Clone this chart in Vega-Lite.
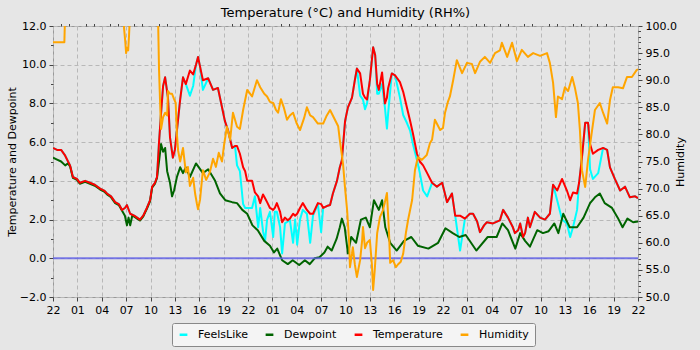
{
"$schema":"https://vega.github.io/schema/vega-lite/v6.json",
"width":585,"height":271,
"autosize":{"type":"none"},
"padding":{"left":53,"top":26,"right":62,"bottom":53},
"background":"#e6e6e6",
"title":{"text":"Temperature (°C) and Humidity (RH%)","font":"DejaVu Sans","fontSize":13,"fontWeight":"normal","color":"#000000","frame":"group","offset":0},
"config":{
 "view":{"fill":"#e5e5e5","stroke":"#999999","strokeWidth":1},
 "axis":{"labelFont":"DejaVu Sans","titleFont":"DejaVu Sans","labelFontSize":11,"titleFontSize":11,"titleFontWeight":"normal","labelColor":"#000000","titleColor":"#000000","domainColor":"#999999","tickColor":"#444444","gridColor":"#b8b8b8","gridDash":[4,3],"gridWidth":1,"labelFlush":false},
 "legend":{"labelFont":"DejaVu Sans","labelFontSize":11,"labelColor":"#000000"}
},
"datasets":{
"temp":[{"h":0,"v":5.7},{"h":0.5,"v":5.6},{"h":1,"v":5.6},{"h":1.5,"v":5.3},{"h":1.85,"v":5.0},{"h":2.1,"v":4.8},{"h":2.45,"v":4.2},{"h":2.95,"v":4.1},{"h":3.3,"v":3.9},{"h":3.95,"v":4.0},{"h":4.55,"v":3.9},{"h":5.15,"v":3.8},{"h":5.8,"v":3.6},{"h":6.3,"v":3.5},{"h":6.65,"v":3.35},{"h":7.15,"v":3.2},{"h":7.65,"v":2.9},{"h":8.1,"v":2.8},{"h":8.5,"v":2.5},{"h":8.85,"v":2.6},{"h":9.1,"v":2.75},{"h":9.5,"v":2.3},{"h":10,"v":2.2},{"h":10.35,"v":2.1},{"h":10.7,"v":2.0},{"h":11.1,"v":2.2},{"h":11.55,"v":2.6},{"h":11.95,"v":3.0},{"h":12.2,"v":3.7},{"h":12.55,"v":3.9},{"h":12.8,"v":4.2},{"h":13.05,"v":6.0},{"h":13.3,"v":7.5},{"h":13.55,"v":8.9},{"h":13.8,"v":9.35},{"h":14.05,"v":8.6},{"h":14.15,"v":8.3},{"h":14.4,"v":6.25},{"h":14.65,"v":5.5},{"h":14.75,"v":5.2},{"h":15,"v":5.6},{"h":15.25,"v":6.6},{"h":15.65,"v":8.2},{"h":16,"v":9.35},{"h":16.35,"v":9.0},{"h":16.85,"v":9.7},{"h":17.25,"v":9.5},{"h":17.6,"v":10.0},{"h":17.85,"v":10.4},{"h":18.1,"v":9.9},{"h":18.45,"v":9.2},{"h":19.1,"v":9.3},{"h":19.7,"v":8.7},{"h":20.3,"v":8.8},{"h":20.8,"v":7.8},{"h":21.15,"v":7.1},{"h":21.55,"v":6.6},{"h":22.05,"v":5.7},{"h":22.4,"v":5.8},{"h":22.65,"v":5.8},{"h":23,"v":5.4},{"h":23.4,"v":4.7},{"h":23.65,"v":4.5},{"h":23.9,"v":4.0},{"h":24.5,"v":4.0},{"h":24.85,"v":3.4},{"h":25.25,"v":3.2},{"h":25.5,"v":2.85},{"h":25.85,"v":3.3},{"h":26.1,"v":3.1},{"h":26.35,"v":2.9},{"h":26.7,"v":2.6},{"h":27.1,"v":2.5},{"h":27.3,"v":2.6},{"h":27.55,"v":2.85},{"h":27.95,"v":2.4},{"h":28.2,"v":1.86},{"h":28.55,"v":2.1},{"h":28.9,"v":1.96},{"h":29.15,"v":2.05},{"h":29.55,"v":2.3},{"h":29.8,"v":2.2},{"h":30.05,"v":2.3},{"h":30.4,"v":2.6},{"h":30.75,"v":2.85},{"h":31.25,"v":2.5},{"h":31.65,"v":2.3},{"h":32,"v":2.3},{"h":32.6,"v":2.85},{"h":33,"v":2.8},{"h":33.25,"v":2.6},{"h":33.7,"v":2.7},{"h":34.1,"v":2.75},{"h":34.45,"v":3.35},{"h":34.95,"v":4.0},{"h":35.3,"v":4.7},{"h":35.55,"v":5.06},{"h":35.95,"v":7.1},{"h":36.3,"v":7.8},{"h":36.8,"v":8.3},{"h":37.15,"v":9.2},{"h":37.4,"v":9.8},{"h":37.8,"v":9.55},{"h":38.15,"v":8.5},{"h":38.4,"v":8.3},{"h":38.65,"v":8.2},{"h":39,"v":9.2},{"h":39.4,"v":10.9},{"h":39.65,"v":10.5},{"h":39.9,"v":9.0},{"h":40.1,"v":8.7},{"h":40.5,"v":9.6},{"h":40.85,"v":8.0},{"h":41.1,"v":8.3},{"h":41.25,"v":8.8},{"h":41.7,"v":9.55},{"h":42.1,"v":9.45},{"h":42.7,"v":9.1},{"h":43.1,"v":8.6},{"h":43.55,"v":7.8},{"h":43.95,"v":7.1},{"h":44.3,"v":6.45},{"h":44.8,"v":5.4},{"h":45.15,"v":5.0},{"h":45.55,"v":4.8},{"h":46.05,"v":4.4},{"h":46.65,"v":3.9},{"h":47.25,"v":3.7},{"h":47.9,"v":3.9},{"h":48.5,"v":2.9},{"h":49.1,"v":3.35},{"h":49.5,"v":2.2},{"h":50.1,"v":2.2},{"h":50.7,"v":2.05},{"h":51.3,"v":2.3},{"h":51.7,"v":2.3},{"h":52.2,"v":1.9},{"h":52.55,"v":1.35},{"h":53.05,"v":1.7},{"h":53.4,"v":1.86},{"h":54.15,"v":1.8},{"h":55,"v":1.96},{"h":55.4,"v":2.5},{"h":56,"v":2.1},{"h":56.6,"v":1.6},{"h":56.85,"v":1.3},{"h":57.25,"v":1.45},{"h":57.5,"v":1.8},{"h":57.85,"v":1.1},{"h":58.1,"v":1.3},{"h":58.45,"v":2.1},{"h":58.7,"v":1.6},{"h":59.3,"v":2.4},{"h":59.95,"v":2.1},{"h":60.55,"v":2.0},{"h":61.15,"v":2.3},{"h":61.55,"v":3.8},{"h":62.05,"v":3.5},{"h":62.65,"v":4.1},{"h":63.25,"v":3.5},{"h":63.65,"v":3.0},{"h":64,"v":3.4},{"h":64.5,"v":3.35},{"h":64.75,"v":3.9},{"h":65.1,"v":5.2},{"h":65.5,"v":7.0},{"h":65.85,"v":7.0},{"h":66.1,"v":5.9},{"h":66.45,"v":5.4},{"h":67.1,"v":5.6},{"h":67.7,"v":5.7},{"h":68.2,"v":5.6},{"h":68.55,"v":4.7},{"h":69.15,"v":4.1},{"h":69.8,"v":3.5},{"h":70.4,"v":3.7},{"h":71,"v":3.15},{"h":71.65,"v":3.2},{"h":72,"v":3.1}],
"feels":[{"h":0,"v":5.7},{"h":0.5,"v":5.6},{"h":1,"v":5.6},{"h":1.5,"v":5.3},{"h":1.85,"v":5.0},{"h":2.1,"v":4.8},{"h":2.45,"v":4.2},{"h":2.95,"v":4.1},{"h":3.3,"v":3.9},{"h":3.95,"v":4.0},{"h":4.55,"v":3.9},{"h":5.15,"v":3.8},{"h":5.8,"v":3.6},{"h":6.3,"v":3.5},{"h":6.65,"v":3.35},{"h":7.15,"v":3.2},{"h":7.65,"v":2.9},{"h":8.1,"v":2.8},{"h":8.5,"v":2.5},{"h":8.85,"v":2.6},{"h":9.1,"v":2.75},{"h":9.5,"v":2.3},{"h":10,"v":2.2},{"h":10.35,"v":2.1},{"h":10.7,"v":2.0},{"h":11.1,"v":2.2},{"h":11.55,"v":2.6},{"h":11.95,"v":3.0},{"h":12.2,"v":3.7},{"h":12.55,"v":3.9},{"h":12.8,"v":4.2},{"h":13.05,"v":6.0},{"h":13.3,"v":7.5},{"h":13.55,"v":8.9},{"h":13.8,"v":9.35},{"h":14.05,"v":8.6},{"h":14.15,"v":8.3},{"h":14.4,"v":6.25},{"h":14.65,"v":5.5},{"h":14.75,"v":5.2},{"h":15,"v":5.6},{"h":15.25,"v":6.6},{"h":15.65,"v":8.2},{"h":16,"v":9.35},{"h":16.35,"v":9.0},{"h":16.85,"v":8.4},{"h":17.25,"v":8.9},{"h":17.6,"v":10.0},{"h":17.85,"v":10.4},{"h":18.1,"v":9.9},{"h":18.45,"v":8.7},{"h":19.1,"v":9.3},{"h":19.7,"v":8.7},{"h":20.3,"v":8.8},{"h":20.8,"v":7.8},{"h":21.15,"v":7.1},{"h":21.55,"v":6.6},{"h":22.05,"v":5.7},{"h":22.4,"v":5.8},{"h":22.65,"v":4.8},{"h":23,"v":4.5},{"h":23.4,"v":2.8},{"h":23.65,"v":2.6},{"h":23.9,"v":2.6},{"h":24.5,"v":2.6},{"h":24.85,"v":3.2},{"h":25.25,"v":1.6},{"h":25.5,"v":2.6},{"h":25.85,"v":1.4},{"h":26.1,"v":0.9},{"h":26.35,"v":2.0},{"h":26.7,"v":2.4},{"h":27.1,"v":1.1},{"h":27.3,"v":2.4},{"h":27.55,"v":2.4},{"h":27.95,"v":1.6},{"h":28.2,"v":0.25},{"h":28.55,"v":1.8},{"h":28.9,"v":1.9},{"h":29.15,"v":2.0},{"h":29.55,"v":0.8},{"h":29.8,"v":2.0},{"h":30.05,"v":0.7},{"h":30.4,"v":2.0},{"h":30.75,"v":2.5},{"h":31.25,"v":2.3},{"h":31.65,"v":0.8},{"h":32,"v":2.2},{"h":32.6,"v":2.8},{"h":33,"v":1.35},{"h":33.25,"v":2.6},{"h":33.7,"v":2.7},{"h":34.1,"v":2.75},{"h":34.45,"v":3.35},{"h":34.95,"v":4.0},{"h":35.3,"v":4.7},{"h":35.55,"v":5.06},{"h":35.95,"v":7.1},{"h":36.3,"v":7.8},{"h":36.8,"v":8.3},{"h":37.15,"v":9.2},{"h":37.4,"v":9.8},{"h":37.8,"v":8.4},{"h":38.15,"v":8.2},{"h":38.4,"v":7.7},{"h":38.65,"v":8.0},{"h":39,"v":9.2},{"h":39.4,"v":10.9},{"h":39.65,"v":10.5},{"h":39.9,"v":8.5},{"h":40.1,"v":8.5},{"h":40.5,"v":9.0},{"h":40.85,"v":7.8},{"h":41.1,"v":6.7},{"h":41.25,"v":7.5},{"h":41.7,"v":9.55},{"h":42.1,"v":9.45},{"h":42.7,"v":8.3},{"h":43.1,"v":7.4},{"h":43.55,"v":7.0},{"h":43.95,"v":6.6},{"h":44.3,"v":5.9},{"h":44.8,"v":5.06},{"h":45.15,"v":4.4},{"h":45.55,"v":3.5},{"h":46.05,"v":3.2},{"h":46.65,"v":3.9},{"h":47.25,"v":3.7},{"h":47.9,"v":3.9},{"h":48.5,"v":2.9},{"h":49.1,"v":3.35},{"h":49.5,"v":2.2},{"h":50.1,"v":0.4},{"h":50.7,"v":2.05},{"h":51.3,"v":2.3},{"h":51.7,"v":2.3},{"h":52.2,"v":1.9},{"h":52.55,"v":1.35},{"h":53.05,"v":1.7},{"h":53.4,"v":1.86},{"h":54.15,"v":1.8},{"h":55,"v":1.96},{"h":55.4,"v":2.5},{"h":56,"v":2.1},{"h":56.6,"v":1.6},{"h":56.85,"v":1.3},{"h":57.25,"v":1.45},{"h":57.5,"v":1.8},{"h":57.85,"v":1.1},{"h":58.1,"v":1.3},{"h":58.45,"v":2.1},{"h":58.7,"v":1.6},{"h":59.3,"v":2.4},{"h":59.95,"v":2.1},{"h":60.55,"v":2.0},{"h":61.15,"v":2.3},{"h":61.55,"v":3.8},{"h":62.05,"v":3.0},{"h":62.65,"v":2.0},{"h":63.25,"v":1.8},{"h":63.65,"v":1.1},{"h":64,"v":1.6},{"h":64.5,"v":2.5},{"h":64.75,"v":3.9},{"h":65.1,"v":5.2},{"h":65.5,"v":7.0},{"h":65.85,"v":7.0},{"h":66.1,"v":4.6},{"h":66.45,"v":4.1},{"h":67.1,"v":4.4},{"h":67.7,"v":5.7},{"h":68.2,"v":5.6},{"h":68.55,"v":4.7},{"h":69.15,"v":4.1},{"h":69.8,"v":3.5},{"h":70.4,"v":3.7},{"h":71,"v":3.15},{"h":71.65,"v":3.2},{"h":72,"v":3.1}],
"dew":[{"h":0,"v":5.2},{"h":0.5,"v":5.1},{"h":1,"v":5.0},{"h":1.5,"v":4.8},{"h":1.85,"v":4.9},{"h":2.1,"v":4.75},{"h":2.45,"v":4.15},{"h":2.95,"v":4.05},{"h":3.3,"v":3.85},{"h":3.95,"v":3.95},{"h":4.55,"v":3.85},{"h":5.15,"v":3.75},{"h":5.8,"v":3.55},{"h":6.3,"v":3.45},{"h":6.65,"v":3.3},{"h":7.15,"v":3.15},{"h":7.65,"v":2.85},{"h":8.1,"v":2.75},{"h":8.5,"v":2.45},{"h":8.85,"v":2.2},{"h":9.1,"v":1.7},{"h":9.3,"v":2.1},{"h":9.5,"v":1.7},{"h":9.75,"v":2.2},{"h":10,"v":2.15},{"h":10.35,"v":2.05},{"h":10.7,"v":1.95},{"h":11.1,"v":2.15},{"h":11.55,"v":2.55},{"h":11.95,"v":2.95},{"h":12.2,"v":3.65},{"h":12.55,"v":3.85},{"h":12.8,"v":4.15},{"h":13.05,"v":5.0},{"h":13.3,"v":5.9},{"h":13.55,"v":5.5},{"h":13.8,"v":5.7},{"h":14.05,"v":4.5},{"h":14.4,"v":3.9},{"h":14.65,"v":3.2},{"h":14.9,"v":3.5},{"h":15.25,"v":4.2},{"h":15.65,"v":4.7},{"h":16,"v":4.4},{"h":16.35,"v":4.7},{"h":16.85,"v":4.2},{"h":17.6,"v":4.9},{"h":18.45,"v":4.4},{"h":19.1,"v":4.6},{"h":19.95,"v":4.0},{"h":20.55,"v":3.35},{"h":21.2,"v":3.0},{"h":22.05,"v":2.9},{"h":22.65,"v":2.85},{"h":23.3,"v":2.5},{"h":23.9,"v":2.3},{"h":24.55,"v":1.7},{"h":25.2,"v":1.45},{"h":26,"v":0.9},{"h":26.7,"v":0.65},{"h":27.2,"v":0.3},{"h":27.6,"v":0.5},{"h":28.2,"v":-0.1},{"h":28.9,"v":-0.3},{"h":29.5,"v":-0.1},{"h":30.3,"v":-0.35},{"h":31,"v":-0.1},{"h":31.6,"v":-0.3},{"h":32.2,"v":0},{"h":32.8,"v":0.05},{"h":33.4,"v":0.3},{"h":33.8,"v":0.6},{"h":34.3,"v":0.4},{"h":34.9,"v":1.0},{"h":35.3,"v":1.6},{"h":35.55,"v":2.05},{"h":35.9,"v":1.6},{"h":36.3,"v":0.25},{"h":36.7,"v":1.1},{"h":37.3,"v":0.8},{"h":37.9,"v":2.0},{"h":38.5,"v":2.1},{"h":39,"v":1.6},{"h":39.5,"v":3.0},{"h":40.1,"v":2.5},{"h":40.5,"v":3.0},{"h":40.9,"v":1.6},{"h":41.5,"v":0.8},{"h":42.3,"v":0.4},{"h":43.2,"v":0.9},{"h":44.1,"v":1.1},{"h":44.9,"v":0.65},{"h":46.2,"v":0.5},{"h":47.4,"v":0.8},{"h":48.3,"v":1.55},{"h":49.2,"v":1.3},{"h":50,"v":1.1},{"h":50.8,"v":1.2},{"h":52.1,"v":0.4},{"h":53.5,"v":1.1},{"h":54.6,"v":1.1},{"h":55.3,"v":1.8},{"h":56,"v":1.45},{"h":56.9,"v":0.5},{"h":57.5,"v":1.3},{"h":58.1,"v":0.9},{"h":58.7,"v":0.6},{"h":59.6,"v":1.45},{"h":60.3,"v":1.3},{"h":61,"v":1.4},{"h":61.7,"v":1.8},{"h":62.2,"v":1.3},{"h":62.8,"v":2.3},{"h":63.6,"v":1.6},{"h":64.5,"v":1.6},{"h":65.3,"v":2.1},{"h":66.1,"v":2.85},{"h":66.7,"v":3.15},{"h":67.3,"v":3.35},{"h":67.9,"v":2.85},{"h":68.8,"v":2.6},{"h":69.5,"v":2.1},{"h":70.1,"v":1.6},{"h":70.7,"v":2.05},{"h":71.4,"v":1.86},{"h":72,"v":1.9}],
"hum":[{"h":0,"v":97},{"h":1.4,"v":97},{"h":1.5,"v":103},{"h":8.7,"v":103},{"h":8.75,"v":99.5},{"h":8.9,"v":97},{"h":9,"v":95},{"h":9.1,"v":96},{"h":9.25,"v":95.5},{"h":9.35,"v":98},{"h":9.5,"v":103},{"h":12.8,"v":103},{"h":12.95,"v":100},{"h":13.05,"v":92},{"h":13.2,"v":85},{"h":13.3,"v":81},{"h":13.55,"v":83.2},{"h":13.8,"v":84},{"h":14.05,"v":83.5},{"h":14.15,"v":88},{"h":14.4,"v":87.5},{"h":14.65,"v":87.5},{"h":14.9,"v":86.5},{"h":15.1,"v":85.8},{"h":15.25,"v":80},{"h":15.4,"v":77},{"h":15.65,"v":75},{"h":16,"v":77.5},{"h":16.35,"v":73},{"h":16.6,"v":74},{"h":16.85,"v":70.5},{"h":17.25,"v":72},{"h":17.5,"v":69},{"h":17.7,"v":67.3},{"h":17.85,"v":66.2},{"h":18.1,"v":68},{"h":18.45,"v":73.4},{"h":18.85,"v":71.6},{"h":19.3,"v":73},{"h":19.7,"v":75.5},{"h":20.05,"v":74},{"h":20.4,"v":76.6},{"h":20.8,"v":75},{"h":21.05,"v":78},{"h":21.4,"v":81.4},{"h":21.8,"v":79},{"h":22.15,"v":84},{"h":22.65,"v":81.4},{"h":23,"v":81},{"h":23.4,"v":84.5},{"h":23.9,"v":88.2},{"h":24.5,"v":87},{"h":25.1,"v":90},{"h":25.5,"v":88.7},{"h":26,"v":87.5},{"h":26.35,"v":87},{"h":26.7,"v":86},{"h":27.1,"v":85.8},{"h":27.45,"v":84.5},{"h":27.7,"v":84},{"h":28.05,"v":86.5},{"h":28.4,"v":85},{"h":28.8,"v":82.7},{"h":29.15,"v":83.5},{"h":29.55,"v":84},{"h":30,"v":82},{"h":30.4,"v":80.8},{"h":30.9,"v":83},{"h":31.25,"v":85},{"h":31.65,"v":83.5},{"h":32,"v":83.2},{"h":32.6,"v":82},{"h":33.25,"v":82},{"h":33.7,"v":83.5},{"h":34.1,"v":84.5},{"h":34.7,"v":82.7},{"h":35.1,"v":81.5},{"h":35.3,"v":79},{"h":35.7,"v":74.5},{"h":35.95,"v":70},{"h":36.2,"v":66},{"h":36.45,"v":60},{"h":36.55,"v":55.5},{"h":36.8,"v":58},{"h":36.9,"v":59.2},{"h":37.15,"v":56},{"h":37.4,"v":53.7},{"h":37.8,"v":56.8},{"h":38.05,"v":60.5},{"h":38.15,"v":62.9},{"h":38.4,"v":59},{"h":38.65,"v":60},{"h":39,"v":60.5},{"h":39.25,"v":56},{"h":39.4,"v":51.3},{"h":39.6,"v":55},{"h":39.9,"v":61.8},{"h":40.25,"v":64.8},{"h":40.6,"v":66},{"h":40.85,"v":67.5},{"h":41.1,"v":69.2},{"h":41.35,"v":62},{"h":41.5,"v":56.3},{"h":41.85,"v":56.8},{"h":42.2,"v":55.5},{"h":42.45,"v":56},{"h":42.8,"v":56.5},{"h":43.1,"v":58},{"h":43.45,"v":62},{"h":43.7,"v":64.2},{"h":44.2,"v":67.9},{"h":44.55,"v":73.4},{"h":44.9,"v":75.8},{"h":45.4,"v":75.3},{"h":46,"v":76.2},{"h":46.4,"v":78.4},{"h":46.65,"v":79},{"h":47,"v":82.7},{"h":47.65,"v":80.8},{"h":48,"v":81.2},{"h":48.25,"v":84},{"h":48.6,"v":86},{"h":48.85,"v":87},{"h":49.25,"v":90},{"h":49.7,"v":93.7},{"h":50.35,"v":91.3},{"h":50.95,"v":93.2},{"h":51.55,"v":93},{"h":51.95,"v":91.3},{"h":52.55,"v":93.4},{"h":53.15,"v":94.3},{"h":53.8,"v":93.2},{"h":54.4,"v":95},{"h":55,"v":95.5},{"h":55.25,"v":96.9},{"h":55.9,"v":94.3},{"h":56.5,"v":96.9},{"h":57.1,"v":93.5},{"h":57.7,"v":95.6},{"h":58.45,"v":94.3},{"h":59.1,"v":95},{"h":59.95,"v":94.5},{"h":60.8,"v":95},{"h":61.15,"v":93.2},{"h":61.55,"v":89.5},{"h":61.9,"v":83.2},{"h":62.15,"v":87},{"h":62.65,"v":86.5},{"h":63,"v":88.7},{"h":63.4,"v":88},{"h":63.9,"v":90.6},{"h":64.25,"v":88.5},{"h":64.6,"v":85.8},{"h":64.85,"v":80.8},{"h":65.1,"v":73.4},{"h":65.5,"v":70.3},{"h":65.85,"v":75.3},{"h":66.35,"v":80.8},{"h":66.7,"v":84.5},{"h":67.3,"v":85.8},{"h":67.7,"v":84},{"h":68.2,"v":82},{"h":68.55,"v":86.3},{"h":68.9,"v":88.7},{"h":69.55,"v":88.7},{"h":70.15,"v":88.5},{"h":70.65,"v":90.6},{"h":71.25,"v":90.6},{"h":71.85,"v":91.9},{"h":72,"v":92}]
},
"layer":[
 {"data":{"name":"feels"},
  "mark":{"type":"line","strokeWidth":2,"strokeJoin":"round","clip":true},
  "encoding":{
   "x":{"field":"h","type":"quantitative","scale":{"domain":[0,72],"nice":false},
        "axis":{"values":[0,3,6,9,12,15,18,21,24,27,30,33,36,39,42,45,48,51,54,57,60,63,66,69,72],"labelExpr":"((datum.value+22)%24<10?'0':'')+((datum.value+22)%24)","title":null,"grid":true,"tickSize":4,"labelPadding":3,"domain":false}},
   "y":{"field":"v","type":"quantitative","scale":{"domain":[-2,12],"nice":false},
        "axis":{"orient":"left","values":[-2,0,2,4,6,8,10,12],"format":".1f","title":"Temperature and Dewpoint","titlePadding":2,"grid":true,"tickSize":4,"labelPadding":3,"domain":false}},
   "color":{"datum":"FeelsLike","type":"nominal","scale":{"domain":["FeelsLike","Dewpoint","Temperature","Humidity"],"range":["#00ffff","#006400","#ff0000","#ffa500"]},
        "legend":{"title":null,"orient":"none","legendX":119,"legendY":297,"direction":"horizontal","symbolType":"stroke","symbolStrokeWidth":2.5,"symbolSize":60,"labelOffset":9,"columnPadding":12,"padding":6,"fillColor":"#f4f4f4","strokeColor":"#888888","cornerRadius":2}}
  }},
 {"data":{"name":"dew"},
  "mark":{"type":"line","strokeWidth":2,"strokeJoin":"round","clip":true},
  "encoding":{
   "x":{"field":"h","type":"quantitative","scale":{"domain":[0,72],"nice":false},"axis":null},
   "y":{"field":"v","type":"quantitative","scale":{"domain":[-2,12],"nice":false},"axis":null},
   "color":{"datum":"Dewpoint","type":"nominal","scale":{"domain":["FeelsLike","Dewpoint","Temperature","Humidity"],"range":["#00ffff","#006400","#ff0000","#ffa500"]}}
  }},
 {"data":{"name":"temp"},
  "mark":{"type":"line","strokeWidth":2,"strokeJoin":"round","clip":true},
  "encoding":{
   "x":{"field":"h","type":"quantitative","scale":{"domain":[0,72],"nice":false},"axis":null},
   "y":{"field":"v","type":"quantitative","scale":{"domain":[-2,12],"nice":false},"axis":null},
   "color":{"datum":"Temperature","type":"nominal","scale":{"domain":["FeelsLike","Dewpoint","Temperature","Humidity"],"range":["#00ffff","#006400","#ff0000","#ffa500"]}}
  }},
 {"data":{"values":[{"v":0}]},
  "mark":{"type":"rule","color":"#5c5ce6","strokeWidth":2,"opacity":0.8},
  "encoding":{
   "y":{"field":"v","type":"quantitative","scale":{"domain":[-2,12],"nice":false},"axis":null}
  }},
 {"data":{"name":"hum"},
  "mark":{"type":"line","strokeWidth":2,"strokeJoin":"round","clip":true},
  "encoding":{
   "x":{"field":"h","type":"quantitative","scale":{"domain":[0,72],"nice":false},"axis":null},
   "y":{"field":"v","type":"quantitative","scale":{"domain":[50,100],"nice":false},
        "axis":{"orient":"right","values":[50,55,60,65,70,75,80,85,90,95,100],"format":".1f","title":"Humidity","titleAngle":270,"titlePadding":9,"grid":false,"tickSize":4,"labelPadding":3,"domain":false}},
   "color":{"datum":"Humidity","type":"nominal","scale":{"domain":["FeelsLike","Dewpoint","Temperature","Humidity"],"range":["#00ffff","#006400","#ff0000","#ffa500"]}}
  }},
 {"data":{"name":"temp"},
  "mark":{"type":"point","opacity":0},
  "encoding":{
   "x":{"field":"h","type":"quantitative","scale":{"domain":[0,72],"nice":false},
        "axis":{"values":[1,2,4,5,7,8,10,11,13,14,16,17,19,20,22,23,25,26,28,29,31,32,34,35,37,38,40,41,43,44,46,47,49,50,52,53,55,56,58,59,61,62,64,65,67,68,70,71],"labels":false,"title":null,"grid":false,"tickSize":2.5,"domain":false}},
   "y":{"field":"v","type":"quantitative","scale":{"domain":[-2,12],"nice":false},
        "axis":{"orient":"left","values":[-1,1,3,5,7,9,11],"labels":false,"title":null,"grid":false,"tickSize":2.5,"domain":false}}
  }},
 {"data":{"values":[{"v":75}]},
  "mark":{"type":"point","opacity":0},
  "encoding":{
   "y":{"field":"v","type":"quantitative","scale":{"domain":[50,100],"nice":false},
        "axis":{"orient":"right","values":[51,52,53,54,56,57,58,59,61,62,63,64,66,67,68,69,71,72,73,74,76,77,78,79,81,82,83,84,86,87,88,89,91,92,93,94,96,97,98,99],"labels":false,"title":null,"grid":false,"tickSize":2.5,"domain":false}}
  }}
],
"resolve":{"scale":{"y":"independent"},"axis":{"x":"independent","y":"independent"}}
}
